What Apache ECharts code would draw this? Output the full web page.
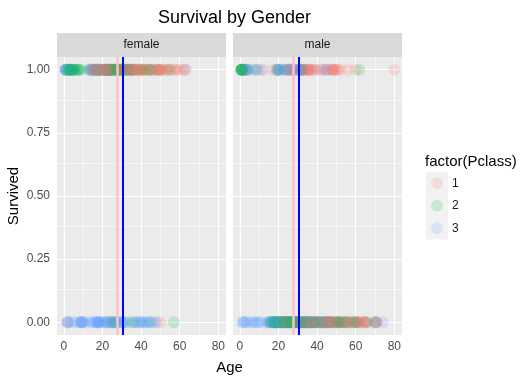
<!DOCTYPE html>
<html>
<head>
<meta charset="utf-8">
<script src="https://cdn.jsdelivr.net/npm/echarts@6/dist/echarts.min.js"></script>
<style>html,body{margin:0;padding:0;background:#fff}#c{width:532px;height:382px}</style>
</head>
<body>
<div id="c"></div>
<script>
// ---- data (ages read/estimated from the reference) ----
const panels = ['female', 'male'];
const classes = ['1', '2', '3'];
const classColors = ['rgba(248,118,109,0.22)', 'rgba(0,186,56,0.22)', 'rgba(97,156,255,0.22)'];
const xTicks = [0, 20, 40, 60, 80];
const xMinor = [10, 30, 50, 70];
const yTicks = [0, 0.25, 0.5, 0.75, 1];
const yMinor = [0.125, 0.375, 0.625, 0.875];
const meanAgeFemale = 27.9;  // pink line
const meanAgeMale = 30.7;    // blue line

// female, survived = 1
const femaleSurvivedC1 = [14, 15, 16, 16, 17, 17, 18, 18, 18, 19, 19, 21, 21, 22, 22, 22, 23, 23, 24, 24, 24, 24, 26, 29, 30, 30, 30, 31, 32, 33, 33, 35, 35, 35, 35, 36, 36, 38, 38, 39, 39, 40, 40, 41, 42, 43, 44, 45, 47, 48, 48, 49, 49, 50, 50, 51, 52, 53, 54, 56, 58, 58, 60, 62, 63, 15, 17, 21, 23, 27, 28, 31, 35, 36, 39, 44, 45, 54];
const femaleSurvivedC2 = [1, 2, 2, 3, 3, 4, 4, 5, 6, 7, 8, 8, 13, 14, 17, 18, 19, 20, 21, 22, 22, 23, 24, 24, 24, 25, 25, 27, 27, 28, 28, 28, 29, 29, 30, 30, 31, 32, 32, 33, 34, 34, 36, 40, 41, 42, 44, 45, 48, 50, 55, 26, 26, 24, 28, 3, 5, 7];
const femaleSurvivedC3 = [0.75, 0.75, 1, 1, 2, 3, 4, 4, 4, 5, 5, 5, 9, 13, 14, 15, 15, 16, 16, 17, 18, 18, 19, 21, 22, 22, 22, 23, 24, 24, 26, 26, 27, 29, 31, 33, 35, 36, 38, 45, 63, 1, 18, 19, 16, 15, 22];
// female, survived = 0
const femaleDiedC1 = [2, 25, 50];
const femaleDiedC2 = [24, 26, 27, 36, 44, 57];
const femaleDiedC3 = [2, 2, 2, 4, 6, 8, 9, 9, 9, 10, 10, 11, 14, 14.5, 16, 17, 18, 18, 18, 18, 20, 21, 21, 22, 22, 23, 24, 25, 26, 27, 28, 29, 30, 30, 31, 32, 33, 35, 37, 38, 39, 40, 40, 41, 42, 43, 45, 45, 47, 48, 9, 30, 18, 16, 25];
// male, survived = 1
const maleSurvivedC1 = [0.92, 4, 11, 17, 23, 25, 26, 27, 27, 28, 31, 32, 34, 35, 35, 35, 36, 36, 36, 37, 38, 40, 42, 42, 45, 45, 47, 48, 48, 48, 49, 49, 50, 51, 52, 56, 60, 80];
const maleSurvivedC2 = [0.67, 0.83, 1, 1, 2, 3, 8, 19, 23, 25, 31, 32, 34, 62, 0.83, 1, 2];
const maleSurvivedC3 = [1, 1, 3, 4, 4, 6, 9, 9, 12, 19, 20, 20, 20, 21, 22, 25, 25, 26, 27, 29, 29, 31, 32, 32, 32, 39, 44, 45, 3, 20, 24, 28, 30, 32, 1, 4, 20, 32];
// male, survived = 0
const maleDiedC1 = [19, 21, 22, 24, 27, 28, 29, 30, 31, 33, 36, 37, 38, 39, 40, 40, 42, 44, 45, 45, 45, 46, 47, 47, 49, 50, 50, 51, 52, 54, 54, 55, 56, 56, 58, 60, 61, 62, 64, 64, 65, 65, 70, 71, 71, 46, 42, 36, 24, 61, 47, 56, 18, 29, 45, 33, 62, 37, 48, 65, 58];
const maleDiedC2 = [16, 18, 18, 19, 19, 21, 21, 23, 23, 24, 24, 25, 25, 25, 26, 27, 27, 28, 28, 29, 30, 30, 30, 31, 32, 33, 34, 34, 35, 36, 37, 38, 39, 39, 40, 42, 43, 44, 46, 47, 50, 51, 52, 54, 54, 57, 59, 60, 60, 66, 70, 16, 19, 20, 22, 23, 24, 25, 26, 27, 28, 29, 30, 32, 34, 35, 18, 36, 45, 48, 52, 51];
const maleDiedC3 = [1, 2, 2, 3, 4, 6, 7, 8, 9, 10, 11, 14, 15, 16, 16, 16, 17, 17, 18, 18, 18, 19, 19, 19, 20, 20, 20, 21, 21, 21, 22, 22, 22, 23, 23, 24, 24, 24, 25, 25, 25, 26, 26, 27, 27, 28, 28, 29, 29, 30, 30, 31, 31, 32, 32, 33, 33, 34, 34, 35, 36, 36, 37, 38, 39, 40, 40, 41, 42, 43, 44, 45, 45, 47, 48, 49, 50, 51, 55, 59, 61, 65, 70, 74, 20.5, 28.5, 32.5, 34.5, 40.5, 45.5, 55.5, 36.5, 14.5, 23.5, 24.5, 30.5, 70.5, 44, 39, 33, 26, 22, 19, 17, 28, 35, 42];

const survivedData = [
  [femaleSurvivedC1, femaleSurvivedC2, femaleSurvivedC3],
  [maleSurvivedC1, maleSurvivedC2, maleSurvivedC3]
];
const diedData = [
  [femaleDiedC1, femaleDiedC2, femaleDiedC3],
  [maleDiedC1, maleDiedC2, maleDiedC3]
];

// ---- layout ----
const gridLeft = [57, 233];
const gridTop = 57, gridW = 169, gridH = 278;
const xMin = -3.56, xMax = 83.98, yMin = -0.05, yMax = 1.05;
const FONT = 'Liberation Sans, Arial, sans-serif';
const nChunks = 4;            // interleave layers of the classes, like row order in the source
const drawOrder = [2, 1, 0];

const grids = [], xAxes = [], yAxes = [], series = [];
panels.forEach((p, g) => {
  grids.push({left: gridLeft[g], top: gridTop, width: gridW, height: gridH,
    show: true, backgroundColor: '#EBEBEB', borderWidth: 0, containLabel: false});
  xAxes.push({type: 'value', gridIndex: g, min: xMin, max: xMax,
    axisLine: {show: false}, splitLine: {show: false},
    axisTick: {show: true, length: 4, lineStyle: {color: '#333333', width: 1}, customValues: xTicks},
    axisLabel: {show: true, customValues: xTicks, color: '#4D4D4D', fontSize: 12, fontFamily: FONT, margin: 6}
  });
  yAxes.push({type: 'value', gridIndex: g, min: yMin, max: yMax,
    name: g === 0 ? 'Survived' : '', nameLocation: 'middle', nameGap: 36, nameRotate: 90,
    nameTextStyle: {color: '#000', fontSize: 15, fontFamily: FONT},
    axisLine: {show: false}, splitLine: {show: false},
    axisTick: {show: g === 0, length: 4, lineStyle: {color: '#333333', width: 1}, customValues: yTicks},
    axisLabel: {show: g === 0, customValues: yTicks, color: '#4D4D4D', fontSize: 12, fontFamily: FONT, margin: 7,
      formatter: v => Number(v).toFixed(2)}
  });
  // gridlines
  const gl = [];
  xMinor.forEach(v => gl.push({xAxis: v, lineStyle: {width: 0.55}}));
  yMinor.forEach(v => gl.push({yAxis: v, lineStyle: {width: 0.55}}));
  xTicks.forEach(v => gl.push({xAxis: v, lineStyle: {width: 1.1}}));
  yTicks.forEach(v => gl.push({yAxis: v, lineStyle: {width: 1.1}}));
  series.push({type: 'scatter', xAxisIndex: g, yAxisIndex: g, data: [], z: 1, silent: true,
    markLine: {z: 1, silent: true, symbol: ['none', 'none'], label: {show: false}, animation: false,
      lineStyle: {color: '#FFFFFF', type: 'solid'}, emphasis: {disabled: true}, data: gl}});
  // points, interleaved by chunk
  for (let ch = 0; ch < nChunks; ch++) {
    drawOrder.forEach(k => {
      const pts = [];
      survivedData[g][k].forEach((a, i) => { if (i % nChunks === ch) pts.push([a, 1]); });
      diedData[g][k].forEach((a, i) => { if (i % nChunks === ch) pts.push([a, 0]); });
      series.push({type: 'scatter', name: classes[k], xAxisIndex: g, yAxisIndex: g, z: 2,
        symbol: 'circle', symbolSize: 12, data: pts, clip: false,
        itemStyle: {color: classColors[k], borderWidth: 0}, emphasis: {disabled: true}, silent: true});
    });
  }
  // reference lines
  series.push({type: 'scatter', xAxisIndex: g, yAxisIndex: g, data: [], z: 3, silent: true,
    markLine: {z: 3, silent: true, symbol: ['none', 'none'], label: {show: false}, animation: false, emphasis: {disabled: true},
      data: [
        {xAxis: meanAgeFemale, lineStyle: {color: '#FFC0CB', width: 2.5, type: 'solid'}},
        {xAxis: meanAgeMale, lineStyle: {color: '#0000FF', width: 2, type: 'solid'}}
      ]}});
});

const graphics = [];
panels.forEach((p, g) => {
  graphics.push({type: 'rect', z: 1, shape: {x: gridLeft[g], y: 33, width: gridW, height: 24}, style: {fill: '#D9D9D9'}});
  graphics.push({type: 'text', z: 2, x: gridLeft[g] + gridW / 2, y: 45,
    style: {text: p, fill: '#1A1A1A', font: '12px ' + FONT, textAlign: 'center', textVerticalAlign: 'middle'}});
});
graphics.push({type: 'text', z: 2, x: (gridLeft[0] + gridLeft[1] + gridW) / 2, y: 368,
  style: {text: 'Age', fill: '#000', font: '15px ' + FONT, textAlign: 'center', textVerticalAlign: 'middle'}});
graphics.push({type: 'text', z: 2, x: 425, y: 162,
  style: {text: 'factor(Pclass)', fill: '#000', font: '15px ' + FONT, textAlign: 'left', textVerticalAlign: 'middle'}});
classes.forEach((c, k) => {
  graphics.push({type: 'rect', z: 1, shape: {x: 426, y: 172 + k * 22.5, width: 22, height: 22.5}, style: {fill: '#F2F2F2'}});
});

const chart = echarts.init(document.getElementById('c'), null, {renderer: 'canvas'});
chart.setOption({
  animation: false,
  backgroundColor: '#FFFFFF',
  title: {text: 'Survival by Gender', left: 229.5, textAlign: 'center', top: 4,
    textStyle: {color: '#000', fontSize: 18, fontWeight: 'normal', fontFamily: FONT}},
  legend: {data: classes, orient: 'vertical', left: 431, top: 177.3, padding: 0,
    itemWidth: 12, itemHeight: 12, itemGap: 10.5, icon: 'circle', selectedMode: false,
    textStyle: {color: '#1A1A1A', fontSize: 12, fontFamily: FONT, padding: [0, 0, 0, 4]}},
  grid: grids, xAxis: xAxes, yAxis: yAxes, series: series, graphic: graphics
});
</script>
</body>
</html>
